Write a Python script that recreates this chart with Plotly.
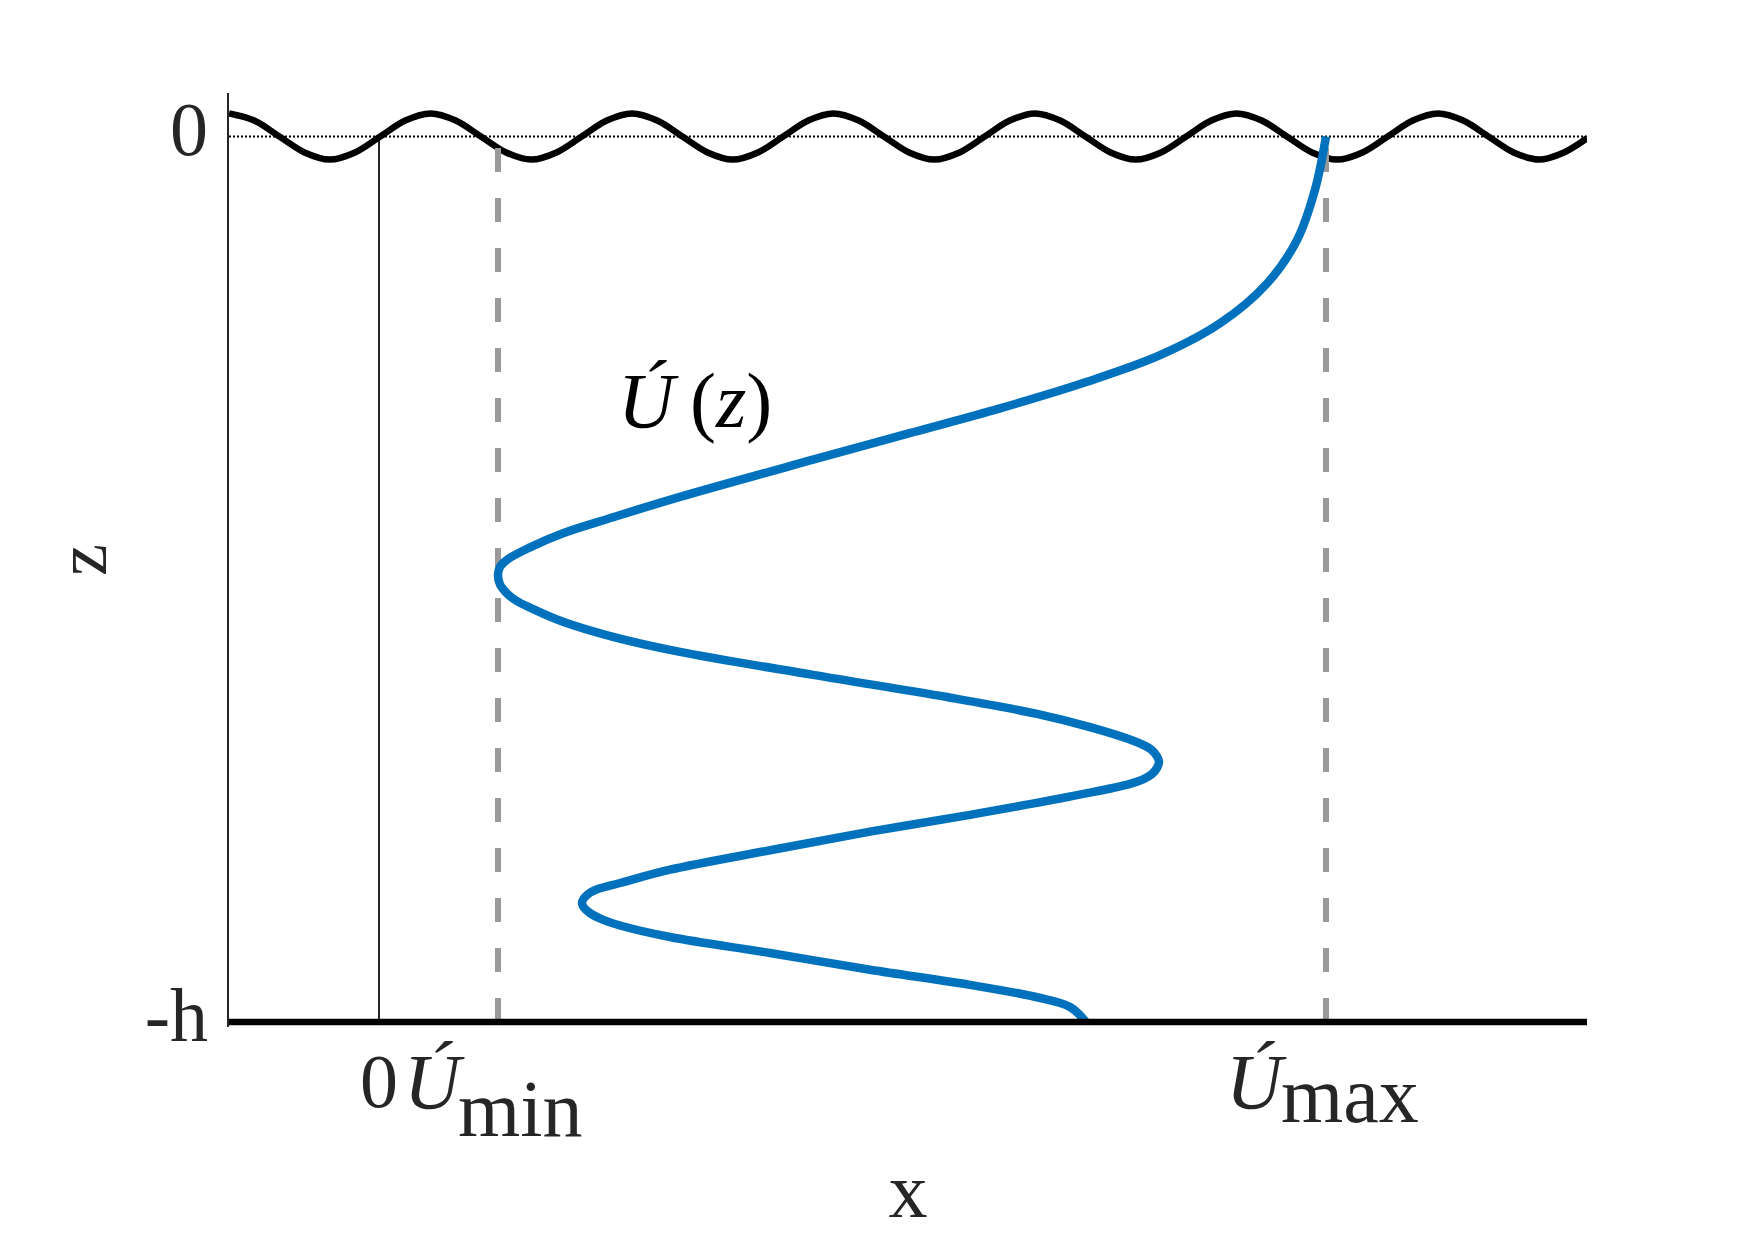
import plotly.graph_objects as go

# ---------------- data ----------------
# velocity profile U'(z): horizontal position (arbitrary units, 0 = zero velocity),
# depth z (0 = mean surface, -1 = -h)
profile_x = [9.47, 9.36, 9.18, 8.88, 8.41, 7.81, 7.08, 6.21, 5.34, 4.34,
             3.01, 2.34, 1.84, 1.51, 1.28, 1.21, 1.19, 1.21, 1.28,
             1.37, 1.51, 1.84, 2.34, 3.01, 4.34, 5.68, 6.58, 7.11, 7.51,
             7.64, 7.73, 7.78, 7.80, 7.78, 7.73, 7.64, 7.51, 7.11, 5.91,
             4.91, 3.91, 2.91, 2.41, 2.21, 2.11, 2.05, 2.03, 2.05, 2.11,
             2.23, 2.41, 2.91, 3.91, 4.91, 5.91, 6.58, 6.91, 7.07]
profile_z = [0.000, -0.060, -0.117, -0.166, -0.211, -0.247, -0.277, -0.307, -0.334, -0.365,
             -0.407, -0.430, -0.448, -0.464, -0.478, -0.486, -0.495, -0.506, -0.516,
             -0.524, -0.532, -0.548, -0.565, -0.582, -0.608, -0.633, -0.652, -0.667, -0.681,
             -0.687, -0.693, -0.700, -0.706, -0.713, -0.720, -0.726, -0.731, -0.741, -0.766,
             -0.785, -0.806, -0.828, -0.843, -0.849, -0.854, -0.860, -0.866, -0.871, -0.877,
             -0.884, -0.891, -0.904, -0.922, -0.941, -0.958, -0.972, -0.983, -1.000]

# free-surface wave elevation, sampled every eighth of a wavelength
wave_x = [-1.500, -1.248, -0.996, -0.744, -0.492, -0.240, 0.012, 0.263, 0.515, 0.767,
          1.019, 1.271, 1.523, 1.775, 2.027, 2.278, 2.530, 2.782, 3.034, 3.286, 3.538,
          3.790, 4.042, 4.293, 4.545, 4.797, 5.049, 5.301, 5.553, 5.805, 6.057, 6.308,
          6.560, 6.812, 7.064, 7.316, 7.568, 7.820, 8.072, 8.323, 8.575, 8.827, 9.079,
          9.331, 9.583, 9.835, 10.087, 10.338, 10.590, 10.842, 11.094, 11.346, 11.598,
          11.850, 12.080]
wave_z = [0.026, 0.018, 0.0, -0.018, -0.026, -0.018, 0.0, 0.018, 0.026, 0.018,
          0.0, -0.018, -0.026, -0.018, 0.0, 0.018, 0.026, 0.018, 0.0, -0.018, -0.026,
          -0.018, 0.0, 0.018, 0.026, 0.018, 0.0, -0.018, -0.026, -0.018, 0.0, 0.018,
          0.026, 0.018, 0.0, -0.018, -0.026, -0.018, 0.0, 0.018, 0.026, 0.018, 0.0,
          -0.018, -0.026, -0.018, 0.0, 0.018, 0.026, 0.018, 0.0, -0.018, -0.026,
          -0.018, -0.002]

u_min = 1.19
u_max = 9.47
x_left, x_right = -1.5, 12.08
z_surface, z_bottom = 0.0, -1.0
y_range = [-1.0056, 0.0491]

y_tickvals = [0, -1]
y_ticktext = ["0", "-h"]
x_tickvals = [0]
x_ticktext = ["0"]

FONT = "Liberation Serif"
TXT = "#262626"

fig = go.Figure()

# zero-velocity reference line
fig.add_trace(go.Scatter(x=[0, 0], y=[z_bottom, z_surface], mode="lines",
                         line=dict(color="black", width=1.7), hoverinfo="skip"))
# mean surface level (dotted)
fig.add_trace(go.Scatter(x=[x_left, x_right], y=[z_surface, z_surface], mode="lines",
                         line=dict(color="black", width=2, dash="2px,2px"), hoverinfo="skip"))
# wave
fig.add_trace(go.Scatter(x=wave_x, y=wave_z, mode="lines",
                         line=dict(color="black", width=6.5, shape="spline", smoothing=1.0,
                                   simplify=False),
                         hoverinfo="skip"))
# Umin / Umax dashed guides (drawn bottom -> top)
for ux in (u_min, u_max):
    fig.add_trace(go.Scatter(x=[ux, ux], y=[z_bottom, z_surface], mode="lines",
                             line=dict(color="#999999", width=6, dash="24px,26px"),
                             hoverinfo="skip"))
# velocity profile
fig.add_trace(go.Scatter(x=profile_x, y=profile_z, mode="lines",
                         line=dict(color="#0072BD", width=8.5, shape="spline", smoothing=1.0,
                                   simplify=False),
                         hoverinfo="skip"))
# sea bed
fig.add_trace(go.Scatter(x=[x_left, x_right], y=[z_bottom, z_bottom], mode="lines",
                         line=dict(color="black", width=6.5), hoverinfo="skip"))


def px_to_paper(py):
    # paper y of a pixel row below the plot area (plot bottom at 1027 px, height 934 px)
    return (1027 - py) / 934.0


annotations = [
    dict(text="<i>Ú</i>\u2009(<i>z</i>)", x=3.16, y=-0.298, xref="x", yref="y",
         showarrow=False, font=dict(family=FONT, size=78, color="black"),
         xanchor="center", yanchor="middle"),
    # x tick labels for U'min and U'max
    dict(text="<i>Ú</i>", x=u_min - 0.31, y=px_to_paper(1081), xref="x", yref="paper",
         showarrow=False, font=dict(family=FONT, size=78, color=TXT),
         xanchor="right", yanchor="middle"),
    dict(text="min", x=u_min - 0.42, y=px_to_paper(1109), xref="x", yref="paper",
         showarrow=False, font=dict(family=FONT, size=80, color=TXT),
         xanchor="left", yanchor="middle"),
    dict(text="<i>Ú</i>", x=u_max - 0.37, y=px_to_paper(1081), xref="x", yref="paper",
         showarrow=False, font=dict(family=FONT, size=78, color=TXT),
         xanchor="right", yanchor="middle"),
    dict(text="max", x=u_max - 0.47, y=px_to_paper(1095), xref="x", yref="paper",
         showarrow=False, font=dict(family=FONT, size=80, color=TXT),
         xanchor="left", yanchor="middle"),
]

fig.update_layout(
    width=1755, height=1240,
    margin=dict(l=229, r=168, t=93, b=213),
    paper_bgcolor="white", plot_bgcolor="white",
    showlegend=False,
    font=dict(family=FONT, color=TXT),
    annotations=annotations,
    xaxis=dict(range=[x_left, x_right], showgrid=False, zeroline=False, showline=False,
               tickvals=x_tickvals, ticktext=x_ticktext, ticks="",
               tickfont=dict(family=FONT, size=76, color=TXT), ticklabelstandoff=3,
               title=dict(text="x", font=dict(family=FONT, size=78, color=TXT), standoff=40)),
    yaxis=dict(range=y_range, showgrid=False, zeroline=False, showline=True,
               linecolor=TXT, linewidth=1.5, tickvals=y_tickvals, ticktext=y_ticktext,
               ticks="", tickfont=dict(family=FONT, size=76, color=TXT), ticklabelstandoff=4,
               ticklabelshift=-8,
               title=dict(text="z", font=dict(family=FONT, size=72, color=TXT), standoff=15)),
)

fig.write_html("out.html")
